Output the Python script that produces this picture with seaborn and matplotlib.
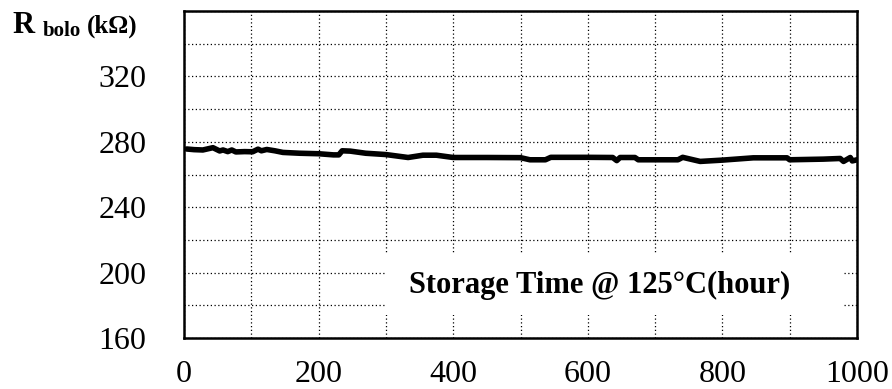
import matplotlib
matplotlib.use("Agg")
import matplotlib.pyplot as plt
import matplotlib.patches as mpatches
import seaborn as sns
import pandas as pd

hours = [4, 15, 28, 43, 53, 58, 65, 71, 77, 90, 102, 110, 115, 123, 135, 147, 172, 200,
         222, 230, 235, 247, 270, 300, 333, 355, 375, 400, 450, 500, 514, 537, 545, 600,
         637, 643, 648, 670, 675, 734, 741, 767, 800, 846, 896, 900, 950, 975, 980, 990,
         993, 1000]
r_bolo = [275.6, 275.2, 275.0, 276.4, 274.4, 275.0, 274.0, 275.0, 273.8, 274.0, 273.9,
          275.5, 274.5, 275.3, 274.5, 273.5, 273.0, 272.7, 272.0, 272.0, 274.5, 274.3,
          273.0, 272.2, 270.4, 271.8, 271.8, 270.4, 270.4, 270.3, 269.0, 269.0, 270.5,
          270.5, 270.4, 268.5, 270.4, 270.4, 269.0, 269.0, 270.5, 268.0, 268.8, 270.2,
          270.2, 269.0, 269.4, 269.8, 268.0, 270.4, 268.3, 269.0]
x_ticks = [0, 200, 400, 600, 800, 1000]
y_ticks = [160, 200, 240, 280, 320]
y_label_main = "R"
y_label_sub = "bolo"
y_label_unit = "(kΩ)"
annotation = "Storage Time @ 125°C(hour)"

df = pd.DataFrame({"hours": hours, "r": r_bolo})

sns.set_style("white")
plt.rcParams["font.family"] = ["Liberation Serif", "DejaVu Serif"]
plt.rcParams["text.color"] = "black"
plt.rcParams["xtick.color"] = "black"
plt.rcParams["ytick.color"] = "black"

W, H = 892, 389
fig = plt.figure(figsize=(W / 100, H / 100), dpi=100)
ax = fig.add_axes([184 / W, (H - 338) / H, (857 - 184) / W, (338 - 11) / H])

sns.lineplot(data=df, x="hours", y="r", ax=ax, color="black", linewidth=4.0, zorder=3)

ax.set_xlim(0, 1000)
ax.set_ylim(160, 360)
ax.set_xticks(range(0, 1001, 100))
ax.set_yticks(range(160, 361, 20))
ax.grid(True, color="black", linestyle=(0, (1, 2)), linewidth=0.9)
ax.set_xticklabels([str(v) if v in x_ticks else "" for v in range(0, 1001, 100)])
ax.set_yticklabels([str(v) if v in y_ticks else "" for v in range(160, 361, 20)])
ax.tick_params(axis="both", which="major", direction="out", length=5, width=0.8,
               colors="black", labelcolor="black", labelsize=23)
ax.tick_params(axis="y", pad=22)
ax.tick_params(axis="x", pad=11)
ax.set_xlabel("")
ax.set_ylabel("")
for s in ax.spines.values():
    s.set_visible(True)
    s.set_color("black")
    s.set_linewidth(1.8)

# white box hiding the grid behind the annotation
box = mpatches.Rectangle((0.2987, 0.070), 0.6803, 0.190, transform=ax.transAxes,
                         facecolor="white", edgecolor="none", zorder=4)
ax.add_patch(box)
ax.text(0.618, 0.160, annotation, transform=ax.transAxes, ha="center", va="center",
        fontsize=22, fontweight="bold", color="black", zorder=5)

# y-axis title at top left
fig.text(12 / W, 1 - 33 / H, y_label_main, fontsize=22, fontweight="bold",
         va="baseline", color="black")
fig.text(43 / W, 1 - 36 / H, y_label_sub, fontsize=15, fontweight="bold",
         va="baseline", color="black")
fig.text(87 / W, 1 - 33 / H, y_label_unit, fontsize=18, fontweight="bold",
         va="baseline", color="black")

fig.savefig("out.png", dpi=100)
